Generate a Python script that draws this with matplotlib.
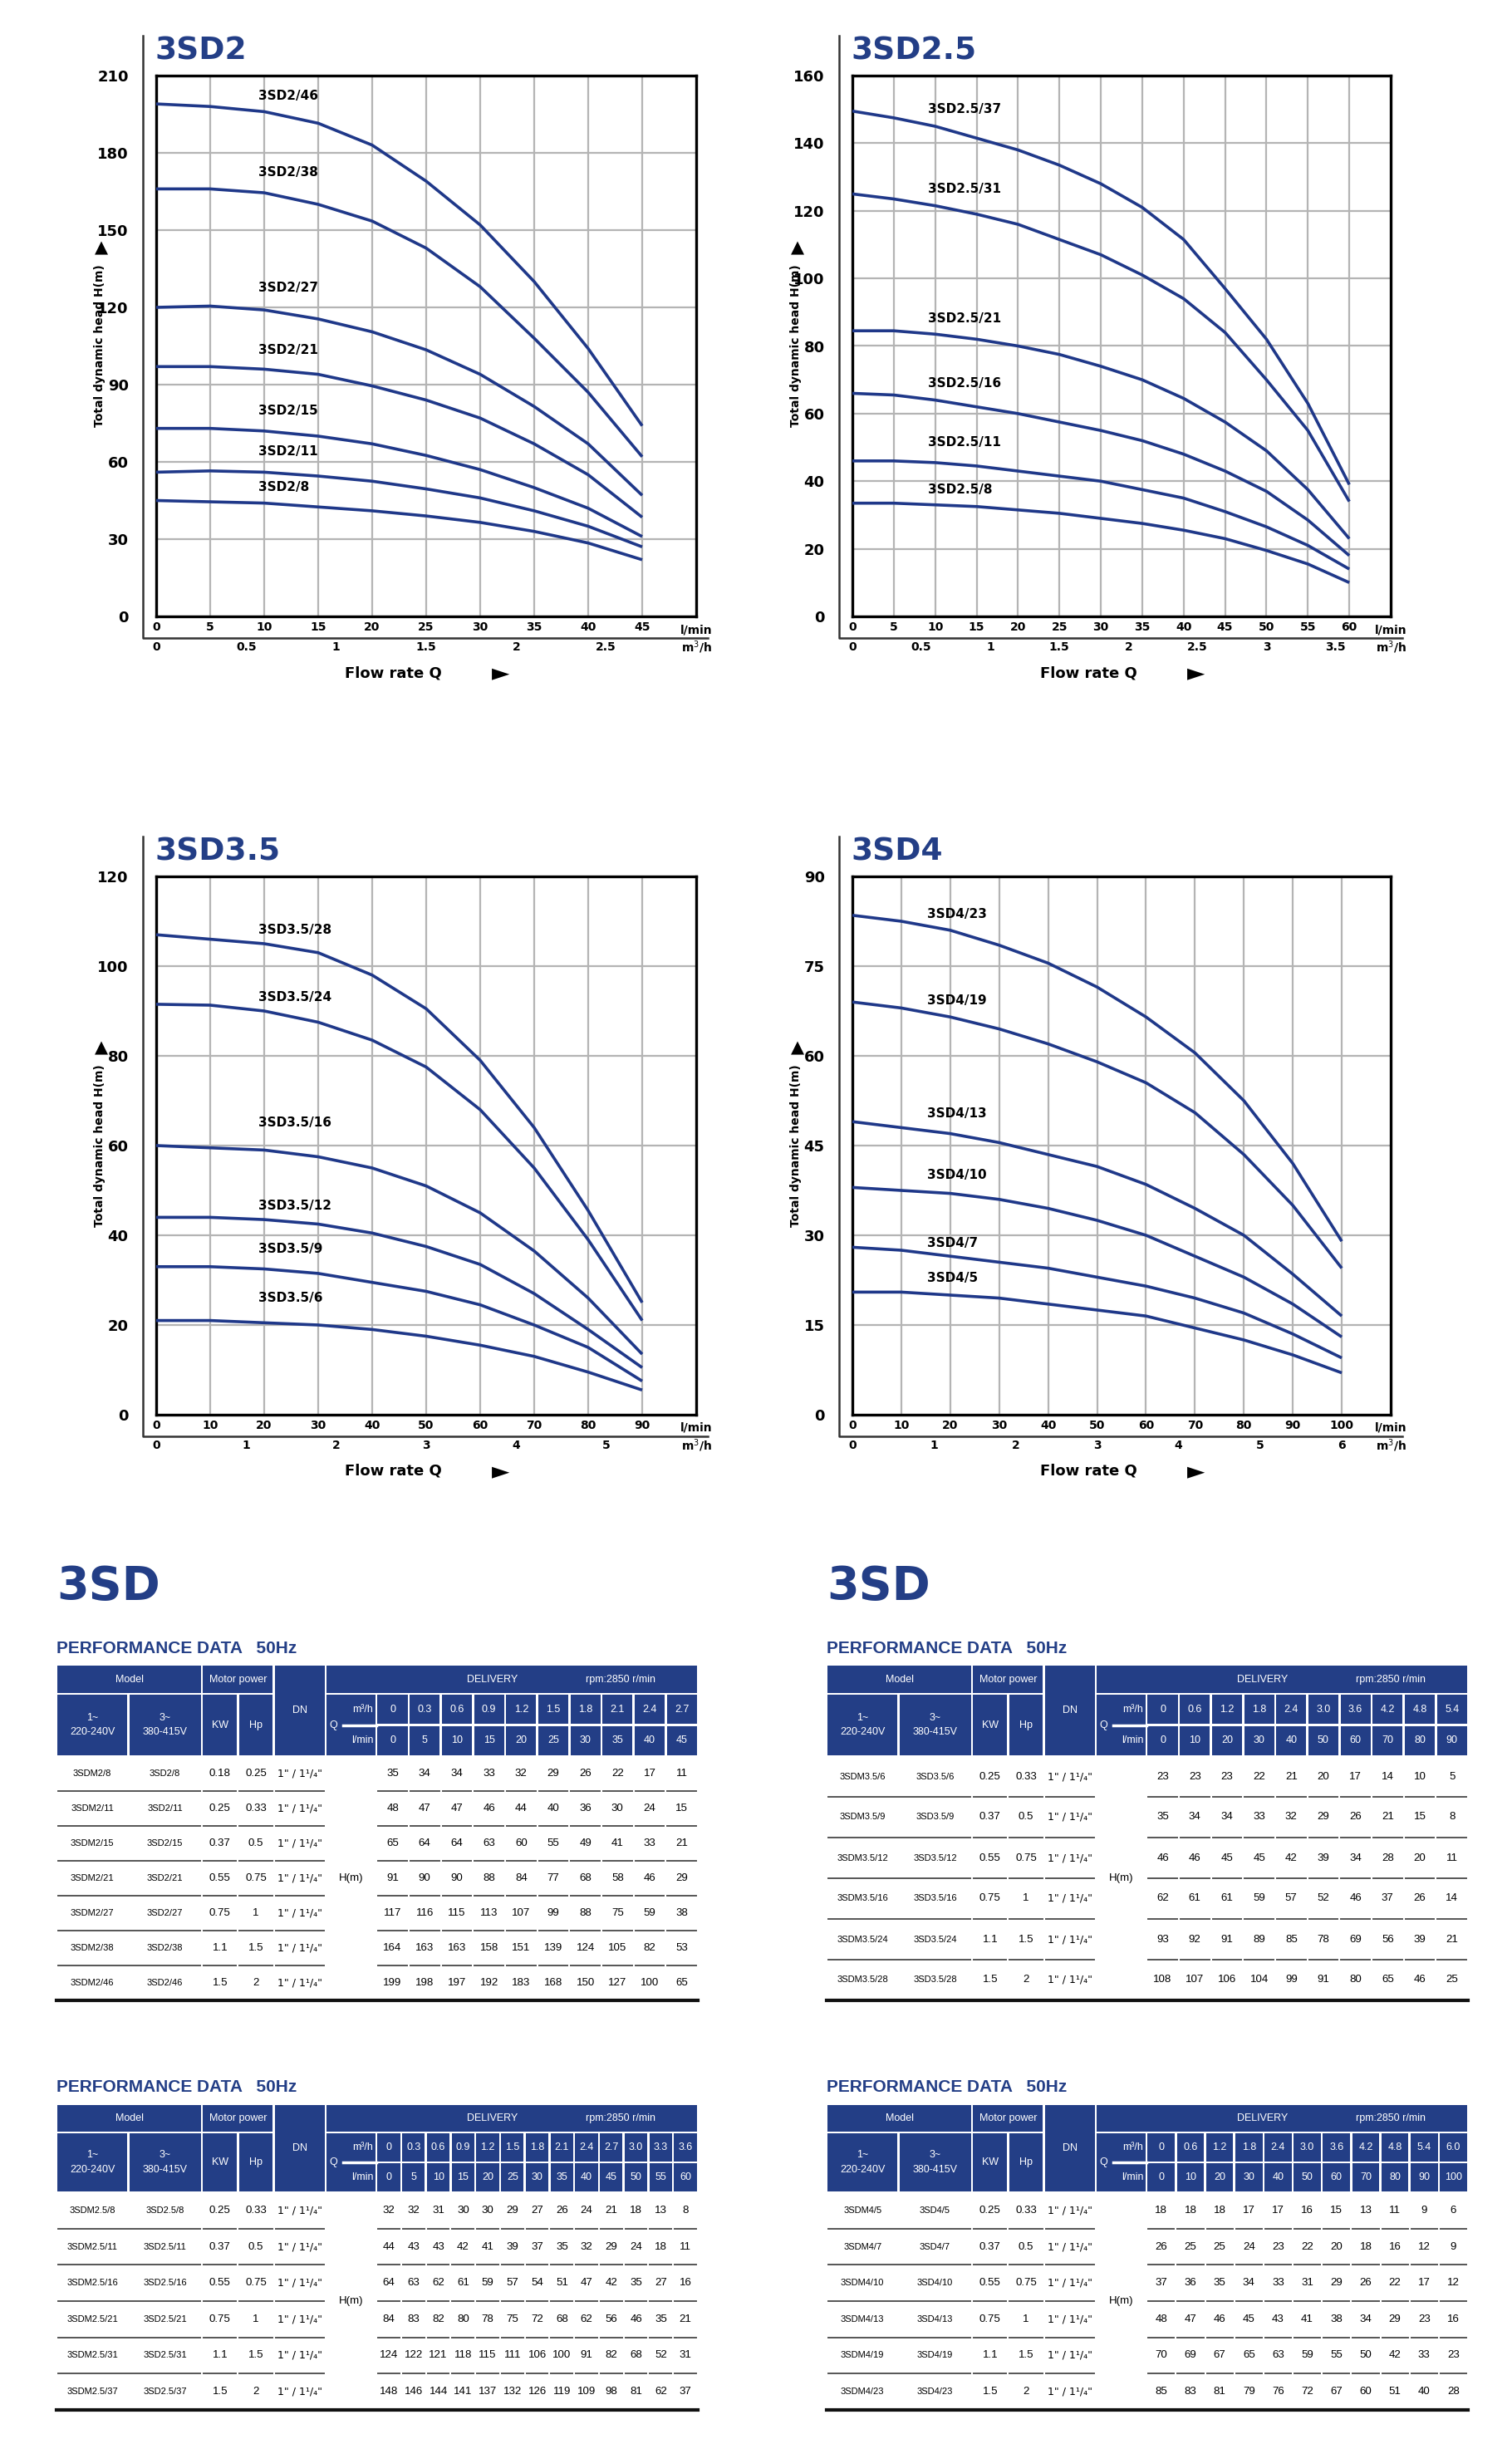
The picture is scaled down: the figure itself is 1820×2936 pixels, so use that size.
import numpy as np
import matplotlib
matplotlib.use("Agg")
import matplotlib.pyplot as plt
from matplotlib.patches import Rectangle
from matplotlib.transforms import blended_transform_factory

NAVY = "#233e86"
CURVE = "#1f3889"
W, H = 1820, 2936

# ---------------- chart data ----------------
c1_names = ["3SD2/46", "3SD2/38", "3SD2/27", "3SD2/21", "3SD2/15", "3SD2/11", "3SD2/8"]
c1_q = [0, 5, 10, 15, 20, 25, 30, 35, 40, 45]
c1_h = [
    [199, 198, 196, 191.5, 183, 169, 152, 130, 104, 74],
    [166, 166, 164.5, 160, 153.5, 143, 128, 108, 87, 62],
    [120, 120.5, 119, 115.5, 110.5, 103.5, 94, 81.5, 67, 47],
    [97, 97, 96, 94, 89.5, 84, 77, 67, 55, 38.5],
    [73, 73, 72, 70, 67, 62.5, 57, 50, 42, 31],
    [56, 56.5, 56, 54.5, 52.5, 49.5, 46, 41, 35, 27],
    [45, 44.5, 44, 42.5, 41, 39, 36.5, 33, 28.5, 22],
]
c1_lab_y = [202, 172.5, 127.5, 103.5, 80, 64, 50]

c2_names = ["3SD2.5/37", "3SD2.5/31", "3SD2.5/21", "3SD2.5/16", "3SD2.5/11", "3SD2.5/8"]
c2_q = [0, 5, 10, 15, 20, 25, 30, 35, 40, 45, 50, 55, 60]
c2_h = [
    [149.5, 147.5, 145, 141.5, 138, 133.5, 128, 121, 111.5, 97, 82, 63, 39],
    [125, 123.5, 121.5, 119, 116, 111.5, 107, 101, 94, 84, 70, 55, 34],
    [84.5, 84.5, 83.5, 82, 80, 77.5, 74, 70, 64.5, 57.5, 49, 37.5, 23],
    [66, 65.5, 64, 62, 60, 57.5, 55, 52, 48, 43, 37, 28.5, 18],
    [46, 46, 45.5, 44.5, 43, 41.5, 40, 37.5, 35, 31, 26.5, 21, 14],
    [33.5, 33.5, 33, 32.5, 31.5, 30.5, 29, 27.5, 25.5, 23, 19.5, 15.5, 10],
]
c2_lab_y = [150, 126.5, 88, 69, 51.5, 37.5]

c3_names = ["3SD3.5/28", "3SD3.5/24", "3SD3.5/16", "3SD3.5/12", "3SD3.5/9", "3SD3.5/6"]
c3_q = [0, 10, 20, 30, 40, 50, 60, 70, 80, 90]
c3_h = [
    [107, 106, 105, 103, 98, 90.5, 79, 64, 45.5, 25],
    [91.5, 91.3, 90, 87.5, 83.5, 77.5, 68, 55, 39, 21],
    [60, 59.5, 59, 57.5, 55, 51, 45, 36.5, 26, 13.5],
    [44, 44, 43.5, 42.5, 40.5, 37.5, 33.5, 27, 19, 10.5],
    [33, 33, 32.5, 31.5, 29.5, 27.5, 24.5, 20, 15, 7.5],
    [21, 21, 20.5, 20, 19, 17.5, 15.5, 13, 9.5, 5.5],
]
c3_lab_y = [108, 93, 65, 46.5, 37, 26]

c4_names = ["3SD4/23", "3SD4/19", "3SD4/13", "3SD4/10", "3SD4/7", "3SD4/5"]
c4_q = [0, 10, 20, 30, 40, 50, 60, 70, 80, 90, 100]
c4_h = [
    [83.5, 82.5, 81, 78.5, 75.5, 71.5, 66.5, 60.5, 52.5, 42, 29],
    [69, 68, 66.5, 64.5, 62, 59, 55.5, 50.5, 43.5, 35, 24.5],
    [49, 48, 47, 45.5, 43.5, 41.5, 38.5, 34.5, 30, 23.5, 16.5],
    [38, 37.5, 37, 36, 34.5, 32.5, 30, 26.5, 23, 18.5, 13],
    [28, 27.5, 26.5, 25.5, 24.5, 23, 21.5, 19.5, 17, 13.5, 9.5],
    [20.5, 20.5, 20, 19.5, 18.5, 17.5, 16.5, 14.5, 12.5, 10, 7],
]
c4_lab_y = [83.7, 69.3, 50.3, 40, 28.7, 22.8]

# ---------------- table data ----------------
t1_q_m3h = ["0", "0.3", "0.6", "0.9", "1.2", "1.5", "1.8", "2.1", "2.4", "2.7"]
t1_q_lpm = ["0", "5", "10", "15", "20", "25", "30", "35", "40", "45"]
t1_m1 = ["3SDM2/8", "3SDM2/11", "3SDM2/15", "3SDM2/21", "3SDM2/27", "3SDM2/38", "3SDM2/46"]
t1_m3 = ["3SD2/8", "3SD2/11", "3SD2/15", "3SD2/21", "3SD2/27", "3SD2/38", "3SD2/46"]
t1_kw = ["0.18", "0.25", "0.37", "0.55", "0.75", "1.1", "1.5"]
t1_hp = ["0.25", "0.33", "0.5", "0.75", "1", "1.5", "2"]
t1_h = [
    [35, 34, 34, 33, 32, 29, 26, 22, 17, 11],
    [48, 47, 47, 46, 44, 40, 36, 30, 24, 15],
    [65, 64, 64, 63, 60, 55, 49, 41, 33, 21],
    [91, 90, 90, 88, 84, 77, 68, 58, 46, 29],
    [117, 116, 115, 113, 107, 99, 88, 75, 59, 38],
    [164, 163, 163, 158, 151, 139, 124, 105, 82, 53],
    [199, 198, 197, 192, 183, 168, 150, 127, 100, 65],
]

t2_q_m3h = ["0", "0.6", "1.2", "1.8", "2.4", "3.0", "3.6", "4.2", "4.8", "5.4"]
t2_q_lpm = ["0", "10", "20", "30", "40", "50", "60", "70", "80", "90"]
t2_m1 = ["3SDM3.5/6", "3SDM3.5/9", "3SDM3.5/12", "3SDM3.5/16", "3SDM3.5/24", "3SDM3.5/28"]
t2_m3 = ["3SD3.5/6", "3SD3.5/9", "3SD3.5/12", "3SD3.5/16", "3SD3.5/24", "3SD3.5/28"]
t2_kw = ["0.25", "0.37", "0.55", "0.75", "1.1", "1.5"]
t2_hp = ["0.33", "0.5", "0.75", "1", "1.5", "2"]
t2_h = [
    [23, 23, 23, 22, 21, 20, 17, 14, 10, 5],
    [35, 34, 34, 33, 32, 29, 26, 21, 15, 8],
    [46, 46, 45, 45, 42, 39, 34, 28, 20, 11],
    [62, 61, 61, 59, 57, 52, 46, 37, 26, 14],
    [93, 92, 91, 89, 85, 78, 69, 56, 39, 21],
    [108, 107, 106, 104, 99, 91, 80, 65, 46, 25],
]

t3_q_m3h = ["0", "0.3", "0.6", "0.9", "1.2", "1.5", "1.8", "2.1", "2.4", "2.7", "3.0", "3.3", "3.6"]
t3_q_lpm = ["0", "5", "10", "15", "20", "25", "30", "35", "40", "45", "50", "55", "60"]
t3_m1 = ["3SDM2.5/8", "3SDM2.5/11", "3SDM2.5/16", "3SDM2.5/21", "3SDM2.5/31", "3SDM2.5/37"]
t3_m3 = ["3SD2.5/8", "3SD2.5/11", "3SD2.5/16", "3SD2.5/21", "3SD2.5/31", "3SD2.5/37"]
t3_kw = ["0.25", "0.37", "0.55", "0.75", "1.1", "1.5"]
t3_hp = ["0.33", "0.5", "0.75", "1", "1.5", "2"]
t3_h = [
    [32, 32, 31, 30, 30, 29, 27, 26, 24, 21, 18, 13, 8],
    [44, 43, 43, 42, 41, 39, 37, 35, 32, 29, 24, 18, 11],
    [64, 63, 62, 61, 59, 57, 54, 51, 47, 42, 35, 27, 16],
    [84, 83, 82, 80, 78, 75, 72, 68, 62, 56, 46, 35, 21],
    [124, 122, 121, 118, 115, 111, 106, 100, 91, 82, 68, 52, 31],
    [148, 146, 144, 141, 137, 132, 126, 119, 109, 98, 81, 62, 37],
]

t4_q_m3h = ["0", "0.6", "1.2", "1.8", "2.4", "3.0", "3.6", "4.2", "4.8", "5.4", "6.0"]
t4_q_lpm = ["0", "10", "20", "30", "40", "50", "60", "70", "80", "90", "100"]
t4_m1 = ["3SDM4/5", "3SDM4/7", "3SDM4/10", "3SDM4/13", "3SDM4/19", "3SDM4/23"]
t4_m3 = ["3SD4/5", "3SD4/7", "3SD4/10", "3SD4/13", "3SD4/19", "3SD4/23"]
t4_kw = ["0.25", "0.37", "0.55", "0.75", "1.1", "1.5"]
t4_hp = ["0.33", "0.5", "0.75", "1", "1.5", "2"]
t4_h = [
    [18, 18, 18, 17, 17, 16, 15, 13, 11, 9, 6],
    [26, 25, 25, 24, 23, 22, 20, 18, 16, 12, 9],
    [37, 36, 35, 34, 33, 31, 29, 26, 22, 17, 12],
    [48, 47, 46, 45, 43, 41, 38, 34, 29, 23, 16],
    [70, 69, 67, 65, 63, 59, 55, 50, 42, 33, 23],
    [85, 83, 81, 79, 76, 72, 67, 60, 51, 40, 28],
]

fig = plt.figure(figsize=(W / 100, H / 100), dpi=100)
plt.rcParams['font.family'] = ['Liberation Sans', 'DejaVu Sans']

# full-figure overlay in pixel coordinates
bg = fig.add_axes([0, 0, 1, 1])
bg.set_xlim(0, W)
bg.set_ylim(H, 0)
bg.axis("off")


def chart(L, T, R, B, title, names, q, heads, lab_x, lab_y, xmax, ymax, ystep,
          m3h_ticks):
    ax = fig.add_axes([L / W, 1 - B / H, (R - L) / W, (B - T) / H])
    for n, h in zip(names, heads):
        ax.plot(q, h, color=CURVE, lw=2.6, solid_capstyle="butt", zorder=3)
    for n, y in zip(names, lab_y):
        ax.text(lab_x, y, n, fontsize=11, fontweight="bold", ha="left",
                va="center", family="DejaVu Sans", zorder=4)
    ax.set_xlim(0, xmax)
    ax.set_ylim(0, ymax)
    ax.set_xticks(q)
    ax.set_xticklabels([str(v) for v in q], fontsize=10, fontweight="bold",
                       family="DejaVu Sans")
    yt = np.arange(0, ymax + 1, ystep)
    ax.set_yticks(yt)
    ax.set_yticklabels([str(int(v)) for v in yt], fontsize=13,
                       fontweight="bold", family="DejaVu Sans")
    ax.tick_params(axis="x", length=0, pad=4)
    ax.tick_params(axis="y", length=0, pad=24)
    ax.grid(True, color="#b4b4b4", lw=1.6)
    ax.set_axisbelow(True)
    for s in ax.spines.values():
        s.set_linewidth(2.4)
    tr = blended_transform_factory(ax.transData, ax.transAxes)
    yl = -37 / (B - T)
    for v in m3h_ticks:
        ax.text(v * 1000 / 60, yl, f"{v:g}", transform=tr, fontsize=10,
                fontweight="bold", ha="center", va="center", family="DejaVu Sans")
    ax.text(1.0, -16 / (B - T), "l/min", transform=ax.transAxes,
            fontsize=10, fontweight="bold", ha="center", va="center",
            family="DejaVu Sans")
    ax.text(1.0, yl, "m$^3$/h", transform=ax.transAxes, fontsize=10,
            fontweight="bold", ha="center", va="center", family="DejaVu Sans")
    # outer L frame
    bg.plot([L - 16, L - 16, R + 14], [T - 48, B + 26, B + 26], color="#333",
            lw=1.8)
    bg.text(L - 2, T - 30, title, fontsize=27, fontweight="heavy", color=NAVY,
            family="DejaVu Sans", ha="left", va="center")
    cx = (L + R) / 2 - 40
    bg.text(cx, B + 68, "Flow rate Q", fontsize=13, fontweight="bold",
            ha="center", va="center", family="DejaVu Sans")
    bg.text(cx + 130, B + 68, "\u25ba", fontsize=20, ha="center", va="center",
            family="DejaVu Sans")
    bg.text(L - 68, (T + B) / 2, "Total dynamic head H(m)", fontsize=10,
            fontweight="bold", rotation=90, ha="center", va="center",
            family="DejaVu Sans")
    bg.text(L - 66, (T + B) / 2 - 118, "\u25b2", fontsize=15, ha="center",
            va="center", family="DejaVu Sans")
    return ax


chart(188, 91, 838, 742, "3SD2", c1_names, c1_q, c1_h, 9.5, c1_lab_y, 50, 210, 30,
      [0, 0.5, 1, 1.5, 2, 2.5])
chart(1026, 91, 1674, 742, "3SD2.5", c2_names, c2_q, c2_h, 9.1, c2_lab_y, 65, 160, 20,
      [0, 0.5, 1, 1.5, 2, 2.5, 3, 3.5])
chart(188, 1055, 838, 1703, "3SD3.5", c3_names, c3_q, c3_h, 19, c3_lab_y, 100, 120, 20,
      [0, 1, 2, 3, 4, 5])
chart(1026, 1055, 1674, 1703, "3SD4", c4_names, c4_q, c4_h, 15.3, c4_lab_y, 110, 90, 15,
      [0, 1, 2, 3, 4, 5, 6])

# ---------------- tables ----------------
DN = '1" / 1\u00b9/\u2084"'


def table(x0, x1, y0, y1, hdr, m3h, lpm, m1, m3, kw, hp, heads):
    w = x1 - x0
    X = lambda r: x0 + r * w
    h1 = hdr * 0.32
    h2 = hdr * 0.66
    g = 2.5

    def cell(a, b, top, bot, text=None, **kw_):
        bg.add_patch(Rectangle((X(a) + g / 2, top + g / 2), X(b) - X(a) - g,
                               bot - top - g, color=NAVY, lw=0))
        if text:
            bg.text((X(a) + X(b)) / 2, (top + bot) / 2, text, color="white",
                    ha="center", va="center", fontsize=9, linespacing=1.6, **kw_)

    cell(0, 0.227, y0, y0 + h1, "Model")
    cell(0.227, 0.339, y0, y0 + h1, "Motor power")
    cell(0.339, 0.42, y0, y0 + hdr, "DN")
    cell(0.42, 1, y0, y0 + h1)
    bg.text(X(0.68), y0 + h1 / 2, "DELIVERY", color="white", ha="center",
            va="center", fontsize=9)
    bg.text(X(0.88), y0 + h1 / 2, "rpm:2850 r/min", color="white", ha="center",
            va="center", fontsize=9)
    cell(0, 0.112, y0 + h1, y0 + hdr, "1~\n220-240V")
    cell(0.112, 0.227, y0 + h1, y0 + hdr, "3~\n380-415V")
    cell(0.227, 0.283, y0 + h1, y0 + hdr, "KW")
    cell(0.283, 0.339, y0 + h1, y0 + hdr, "Hp")
    cell(0.42, 0.499, y0 + h1, y0 + hdr)
    bg.plot([X(0.447), X(0.499)], [y0 + h2, y0 + h2], color="white", lw=2.5)
    bg.text(X(0.432), y0 + h2, "Q", color="white", ha="center", va="center",
            fontsize=9)
    bg.text(X(0.494), (y0 + h1 + y0 + h2) / 2, "m\u00b3/h", color="white",
            ha="right", va="center", fontsize=9)
    bg.text(X(0.494), (y0 + h2 + y0 + hdr) / 2, "l/min", color="white",
            ha="right", va="center", fontsize=9)
    n = len(m3h)
    cw = 0.501 / n
    for i in range(n):
        a = 0.499 + i * cw
        cell(a, a + cw, y0 + h1, y0 + h2, m3h[i])
        cell(a, a + cw, y0 + h2, y0 + hdr, lpm[i])
    rows = len(m1)
    rh = (y1 - y0 - hdr) / rows
    for r in range(rows):
        yc = y0 + hdr + (r + 0.5) * rh
        yb = y0 + hdr + (r + 1) * rh
        bg.text(X(0.056), yc, m1[r], ha="center", va="center", fontsize=8)
        bg.text(X(0.169), yc, m3[r], ha="center", va="center", fontsize=8)
        bg.text(X(0.255), yc, kw[r], ha="center", va="center", fontsize=9.5)
        bg.text(X(0.311), yc, hp[r], ha="center", va="center", fontsize=9.5)
        bg.text(X(0.38), yc, DN, ha="center", va="center", fontsize=9,
                family="DejaVu Sans")
        for i, v in enumerate(heads[r]):
            a = 0.499 + i * cw
            bg.text(X(a + cw / 2), yc, str(v), ha="center", va="center",
                    fontsize=9.5)
            if r < rows - 1:
                bg.plot([X(a) + 2, X(a + cw) - 2], [yb, yb], color="#555", lw=1.4)
        if r < rows - 1:
            for a, b in [(0, 0.227), (0.227, 0.283), (0.283, 0.339), (0.339, 0.42)]:
                bg.plot([X(a) + 2, X(b) - 2], [yb, yb], color="#555", lw=1.4)
    bg.text(X(0.459), y0 + hdr + (y1 - y0 - hdr) / 2, "H(m)", ha="center",
            va="center", fontsize=9.5)
    bg.plot([x0, x1], [y1, y1], color="#111", lw=3)


for xs in (68, 995):
    bg.text(xs, 1910, "3SD", fontsize=40, fontweight="heavy", color=NAVY,
            ha="left", va="center", family="DejaVu Sans")
    bg.text(xs, 1984, "PERFORMANCE DATA   50Hz", fontsize=15, fontweight="bold",
            color=NAVY, ha="left", va="center")
    bg.text(xs, 2513, "PERFORMANCE DATA   50Hz", fontsize=15, fontweight="bold",
            color=NAVY, ha="left", va="center")

table(68, 840, 2004, 2408, 110, t1_q_m3h, t1_q_lpm, t1_m1, t1_m3, t1_kw, t1_hp, t1_h)
table(995, 1767, 2004, 2408, 110, t2_q_m3h, t2_q_lpm, t2_m1, t2_m3, t2_kw, t2_hp, t2_h)
table(68, 840, 2533, 2901, 106, t3_q_m3h, t3_q_lpm, t3_m1, t3_m3, t3_kw, t3_hp, t3_h)
table(995, 1767, 2533, 2901, 106, t4_q_m3h, t4_q_lpm, t4_m1, t4_m3, t4_kw, t4_hp, t4_h)

fig.savefig("out.png", dpi=100)
